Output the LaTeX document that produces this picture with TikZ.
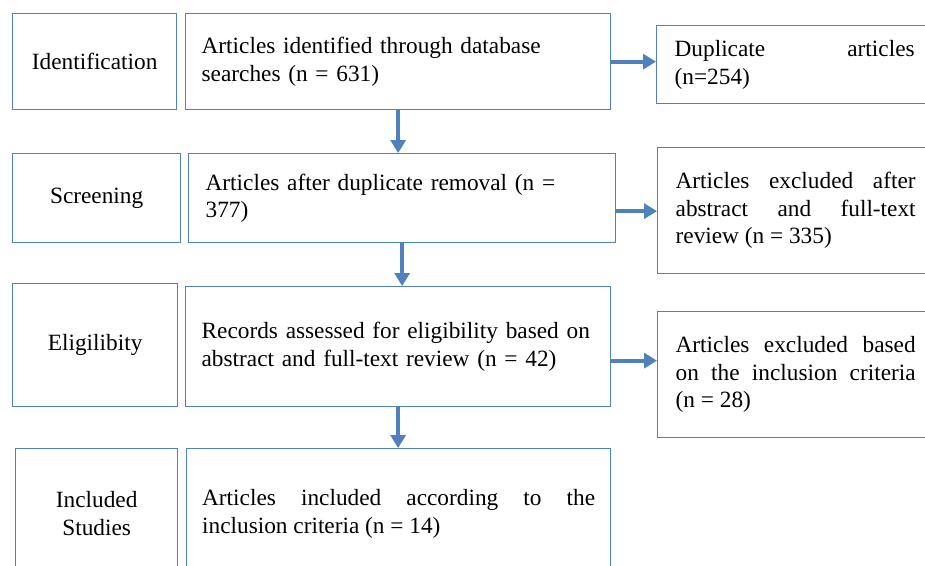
\documentclass[tikz,border=0pt]{standalone}
\usepackage{fontspec}
\setmainfont{Liberation Serif}
\usepackage{tikz}
\usetikzlibrary{arrows.meta}
\definecolor{boxblue}{HTML}{4F81BD}

\begin{document}
\begin{tikzpicture}[x=1pt, y=-1pt,
    font=\fontsize{23.3}{27.6}\selectfont,
    stage/.style={draw=boxblue, line width=1.3pt, anchor=north west, align=center, inner sep=0pt},
    midbox/.style={stage, text width=393pt, align=left},
    sidebox/.style={stage, text width=240pt, minimum width=276pt, align=justify},
    arr/.style={draw=boxblue, line width=4pt, -{Triangle[length=13pt,width=15pt]}}]
        \useasboundingbox (0,0) rectangle (925,565);
        \clip (0,0) rectangle (925,565);
        \node[stage, minimum width=164pt, minimum height=96pt] (ident) at (12,13) {Identification};
        \node[stage, minimum width=168pt, minimum height=89pt] (screen) at (12,153) {Screening};
        \node[stage, minimum width=165pt, minimum height=123pt] (elig) at (12,283) {Eligilibity};
        \node[stage, minimum width=162pt, minimum height=130pt] (incl) at (15,448) {Included\\Studies};
        \node[midbox, minimum width=425pt, minimum height=96pt] (found) at (185,13)
            {Articles identified through database\\searches (n = 631)};
        \node[midbox, minimum width=427pt, minimum height=89pt] (after) at (188,153)
            {Articles after duplicate removal (n =\\377)};
        \node[midbox, minimum width=425pt, minimum height=120pt] (assess) at (185,286)
            {Records assessed for eligibility based on\\abstract and full-text review (n = 42)};
        \node[midbox, align=justify, minimum width=424pt, minimum height=130pt] (final) at (186,448)
            {Articles included according to the\linebreak inclusion criteria (n = 14)};
        \node[sidebox, minimum height=78pt] (dup) at (656,25)
            {Duplicate articles\linebreak (n=254)};
        \node[sidebox, minimum height=126pt] (excl1) at (657,147)
            {Articles excluded after\linebreak abstract and full-text\linebreak review (n = 335)};
        \node[sidebox, minimum height=126pt] (excl2) at (657,311)
            {Articles excluded based\linebreak on the inclusion criteria\linebreak (n = 28)};
        \foreach \a/\b in {found/after, after/assess, assess/final}
            \draw[arr] (\a.south) -- (\a.south |- \b.north);
        \foreach \a/\b/\s in {found/dup/0, after/excl1/-13, assess/excl2/-14}
            \draw[arr] ([yshift=\s pt]\a.east) -- ([yshift=\s pt]\a.east -| \b.west);
    \end{tikzpicture}
\end{document}
